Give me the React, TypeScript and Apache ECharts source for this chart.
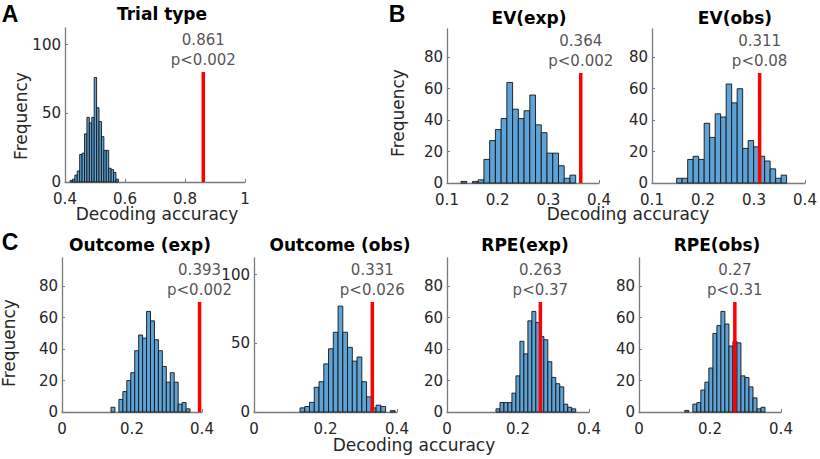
import React, { useEffect, useRef } from "react";
import * as echarts from "echarts";

// ---- data ----
const panelTitles = ["Trial type", "EV(exp)", "EV(obs)", "Outcome (exp)", "Outcome (obs)", "RPE(exp)", "RPE(obs)"];

// histogram bins: first edge, bin width, counts
const trialTypeStart = 0.4167;
const trialTypeWidth = 0.00806;
const trialTypeCounts = [1, 2, 5, 8, 20, 21, 35, 47, 43, 47, 76, 54, 44, 33, 23, 23, 10, 9, 7, 2];

const evExpStart = 0.1276;
const evExpWidth = 0.01132;
const evExpCounts = [1, 0, 1, 2, 15, 27, 34, 41, 64, 47, 41, 46, 56, 37, 32, 19, 19, 11, 3, 5];

const evObsStart = 0.1484;
const evObsWidth = 0.01078;
const evObsCounts = [3, 3, 15, 17, 15, 38, 29, 44, 42, 63, 51, 60, 22, 27, 23, 17, 14, 9, 3, 5];

const outExpStart = 0.14;
const outExpWidth = 0.01129;
const outExpCounts = [3, 0, 8, 13, 20, 25, 39, 49, 47, 64, 58, 46, 39, 29, 19, 25, 19, 5, 6, 2];

const outObsStart = 0.1287;
const outObsWidth = 0.0133;
const outObsCounts = [3, 4, 7, 18, 22, 35, 46, 58, 77, 58, 47, 37, 40, 22, 11, 3, 5, 4, 0, 1];

const rpeExpStart = 0.138;
const rpeExpWidth = 0.01123;
const rpeExpCounts = [2, 6, 6, 6, 12, 23, 45, 37, 58, 64, 57, 48, 46, 32, 22, 18, 16, 5, 3, 2];

const rpeObsStart = 0.129;
const rpeObsWidth = 0.0113;
const rpeObsCounts = [1, 0, 5, 6, 14, 19, 28, 50, 55, 64, 56, 42, 45, 44, 23, 22, 16, 9, 2, 3];

const observedValues = [0.861, 0.364, 0.311, 0.393, 0.331, 0.263, 0.27];
const observedLabels = ["0.861", "0.364", "0.311", "0.393", "0.331", "0.263", "0.27"];
const pLabels = ["p<0.002", "p<0.002", "p<0.08", "p<0.002", "p<0.026", "p<0.37", "p<0.31"];
const markerHeights = [80, 70, 70, 70, 80, 70, 70];

const yMax = [112, 98, 98, 98, 112, 98, 98];
const yTicksA = [0, 50, 100];
const yTicksB = [0, 20, 40, 60, 80];
const yTickSets = [yTicksA, yTicksB, yTicksB, yTicksB, yTicksA, yTicksB, yTicksB];

const xTicksA = [0.4, 0.6, 0.8, 1];
const xTicksB = [0.1, 0.2, 0.3, 0.4];
const xTicksC = [0, 0.2, 0.4];
const xRanges = [[0.4, 1], [0.1, 0.4], [0.1, 0.4], [0, 0.4], [0, 0.4], [0, 0.4], [0, 0.4]];
const xIntervals = [0.2, 0.1, 0.1, 0.2, 0.2, 0.2, 0.2];
const xTickSets = [xTicksA, xTicksB, xTicksB, xTicksC, xTicksC, xTicksC, xTicksC];

const binStarts = [trialTypeStart, evExpStart, evObsStart, outExpStart, outObsStart, rpeExpStart, rpeObsStart];
const binWidths = [trialTypeWidth, evExpWidth, evObsWidth, outExpWidth, outObsWidth, rpeExpWidth, rpeObsWidth];
const binCounts = [trialTypeCounts, evExpCounts, evObsCounts, outExpCounts, outObsCounts, rpeExpCounts, rpeObsCounts];

// ---- layout / style ----
const grids = [
  { left: 65, top: 28, width: 180, height: 154 },
  { left: 447, top: 29, width: 152, height: 154 },
  { left: 652, top: 29, width: 153, height: 154 },
  { left: 62, top: 258, width: 140, height: 154 },
  { left: 254, top: 258, width: 143, height: 154 },
  { left: 447, top: 258, width: 142, height: 154 },
  { left: 639, top: 258, width: 142, height: 154 },
];
const titlePos = [
  [162, 14], [529, 18], [735, 18], [140, 245], [340, 245], [525, 245], [717, 245],
];

const FONT = "DejaVu Sans";
const BAR_FILL = "#5ea3d8";
const BAR_EDGE = "#141414";
const AXIS_COLOR = "#7a7a7a";
const TEXT_COLOR = "#262626";

export default function App() {
  const ref = useRef<HTMLDivElement>(null);

  useEffect(() => {
    if (!ref.current) return;
    const chart = echarts.init(ref.current, undefined, { renderer: "svg" });

    const xAxis: any[] = [];
    const yAxis: any[] = [];
    const series: any[] = [];

    grids.forEach((g, i) => {
      xAxis.push({
        type: "value",
        gridIndex: i,
        min: xRanges[i][0],
        max: xRanges[i][1],
        interval: xIntervals[i],
        axisLine: { show: true, onZero: false, lineStyle: { color: AXIS_COLOR, width: 1.3 } },
        axisTick: { show: true, inside: true, length: 3, customValues: xTickSets[i], lineStyle: { color: AXIS_COLOR } },
        axisLabel: { customValues: xTickSets[i], margin: 9, fontSize: 15, fontFamily: FONT, color: TEXT_COLOR },
        splitLine: { show: false },
      });
      yAxis.push({
        type: "value",
        gridIndex: i,
        min: 0,
        max: yMax[i],
        axisLine: { show: true, onZero: false, lineStyle: { color: AXIS_COLOR, width: 1.3 } },
        axisTick: { show: true, inside: true, length: 3, customValues: yTickSets[i], lineStyle: { color: AXIS_COLOR } },
        axisLabel: { customValues: yTickSets[i], margin: 4, fontSize: 15, fontFamily: FONT, color: TEXT_COLOR },
        splitLine: { show: false },
      });

      const bins: number[][] = [];
      binCounts[i].forEach((c, k) => {
        if (c > 0) {
          const x0 = binStarts[i] + k * binWidths[i];
          bins.push([x0, x0 + binWidths[i], c]);
        }
      });

      series.push({
        type: "custom",
        xAxisIndex: i,
        yAxisIndex: i,
        data: bins,
        encode: { x: [0, 1], y: 2 },
        silent: true,
        renderItem: (_params: any, api: any) => {
          const p0 = api.coord([api.value(0), api.value(2)]);
          const p1 = api.coord([api.value(1), 0]);
          return {
            type: "rect",
            shape: { x: p0[0], y: p0[1], width: p1[0] - p0[0], height: p1[1] - p0[1] },
            style: { fill: BAR_FILL, stroke: BAR_EDGE, lineWidth: 0.9 },
          };
        },
      });

      series.push({
        type: "line",
        xAxisIndex: i,
        yAxisIndex: i,
        data: [[observedValues[i], 0], [observedValues[i], markerHeights[i]]],
        showSymbol: false,
        symbol: "none",
        silent: true,
        z: 5,
        lineStyle: { color: "#ff0000", width: 3.5, cap: "butt" },
      });

      series.push({
        type: "scatter",
        xAxisIndex: i,
        yAxisIndex: i,
        data: [[observedValues[i], markerHeights[i]]],
        symbolSize: 1,
        itemStyle: { color: "rgba(0,0,0,0)" },
        silent: true,
        z: 6,
        label: {
          show: true,
          position: "top",
          distance: 2,
          formatter: observedLabels[i] + "\n" + pLabels[i],
          fontSize: 15,
          lineHeight: 20,
          fontFamily: FONT,
          color: TEXT_COLOR,
          align: "center",
        },
      });
    });

    const txt = (text: string, x: number, y: number, size: number, bold: boolean, rot = 0, family = FONT) => ({
      type: "text",
      x,
      y,
      rotation: rot,
      silent: true,
      style: {
        text,
        fill: bold ? "#000" : TEXT_COLOR,
        font: `${bold ? "bold " : ""}${size}px "${family}"`,
        align: "center",
        verticalAlign: "middle",
        textAlign: "center",
        textVerticalAlign: "middle",
      },
    });

    const graphic: any[] = [
      txt("A", 10, 14, 23, true, 0, "Liberation Sans"),
      txt("B", 397, 14, 23, true, 0, "Liberation Sans"),
      txt("C", 10, 242, 23, true, 0, "Liberation Sans"),
      txt("Frequency", 21, 116, 17, false, Math.PI / 2),
      txt("Frequency", 398, 113, 17, false, Math.PI / 2),
      txt("Frequency", 9, 343, 17, false, Math.PI / 2),
      txt("Decoding accuracy", 157, 214, 17, false),
      txt("Decoding accuracy", 628, 214, 17, false),
      txt("Decoding accuracy", 414, 445, 17, false),
    ];
    panelTitles.forEach((t, i) => {
      graphic.push(txt(t, titlePos[i][0], titlePos[i][1], 17, true));
    });

    chart.setOption({
      animation: false,
      backgroundColor: "#ffffff",
      grid: grids.map((g) => ({ ...g, containLabel: false })),
      xAxis,
      yAxis,
      series,
      graphic,
    });

    return () => chart.dispose();
  }, []);

  return (
    <div
      ref={ref}
      style={{ position: "fixed", left: 0, top: 0, width: 820, height: 459, background: "#fff" }}
    />
  );
}
